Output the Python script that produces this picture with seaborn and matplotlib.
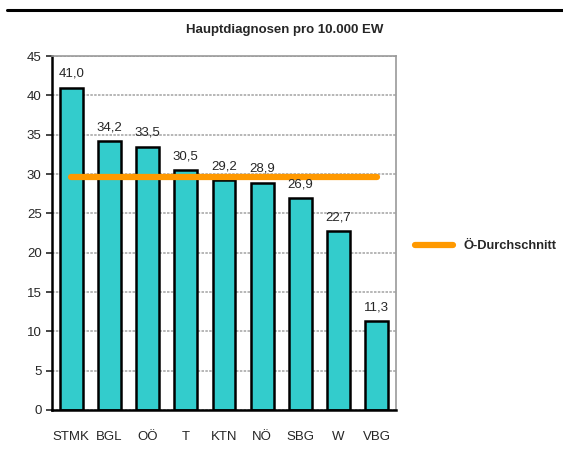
import pandas as pd
import matplotlib.pyplot as plt
import seaborn as sns

regions = ['STMK', 'BGL', 'OÖ', 'T', 'KTN', 'NÖ', 'SBG', 'W', 'VBG']
values = [41.0, 34.2, 33.5, 30.5, 29.2, 28.9, 26.9, 22.7, 11.3]
average = 29.6

data = pd.DataFrame({'Region': regions, 'Wert': values})

sns.set_style('white')
plt.rcParams['font.family'] = ['Liberation Sans', 'DejaVu Sans']

fig = plt.figure(figsize=(5.63, 4.53), dpi=100)
ax = fig.add_axes([0.0924, 0.095, 0.611, 0.781])

sns.barplot(data=data, x='Region', y='Wert', color='#33CCCC', edgecolor='black',
            linewidth=1.8, width=0.6, saturation=1, ax=ax, zorder=2)

ax.plot([0, len(regions) - 1], [average, average], color='#FF9900', lw=4.5,
        solid_capstyle='round', zorder=3, label='Ö-Durchschnitt')

for i, v in enumerate(values):
    ax.text(i, v + 1.0, f'{v:.1f}'.replace('.', ','), ha='center', va='bottom', fontsize=9.5)

ax.set_xlim(-0.5, len(regions) - 0.5)
ax.set_ylim(0, 45)
ax.set_yticks(range(0, 46, 5))
ax.yaxis.grid(True, color='#aaaaaa', linestyle=(0, (1.5, 0.8)), linewidth=1.2, zorder=0)
ax.set_axisbelow(True)
ax.set_xlabel('')
ax.set_ylabel('')
ax.tick_params(axis='y', length=4, width=1.2, direction='out', left=True, labelsize=9.5)
ax.tick_params(axis='x', length=0, labelsize=9.5, pad=15)

for side in ['left', 'bottom']:
    ax.spines[side].set_color('black')
    ax.spines[side].set_linewidth(1.8)
for side in ['top', 'right']:
    ax.spines[side].set_color('#999999')
    ax.spines[side].set_linewidth(1.2)

fig.text(0.505, 0.933, 'Hauptdiagnosen pro 10.000 EW', ha='center', va='center',
         fontsize=9.5, fontweight='bold')
fig.add_artist(plt.Line2D([0.012, 1.0], [0.978, 0.978], color='black', lw=2.2))

ax.legend(loc='center left', bbox_to_anchor=(1.02, 0.463), frameon=False,
          prop={'weight': 'bold', 'size': 9.3}, handlelength=3)

fig.savefig('out.png', dpi=100)
